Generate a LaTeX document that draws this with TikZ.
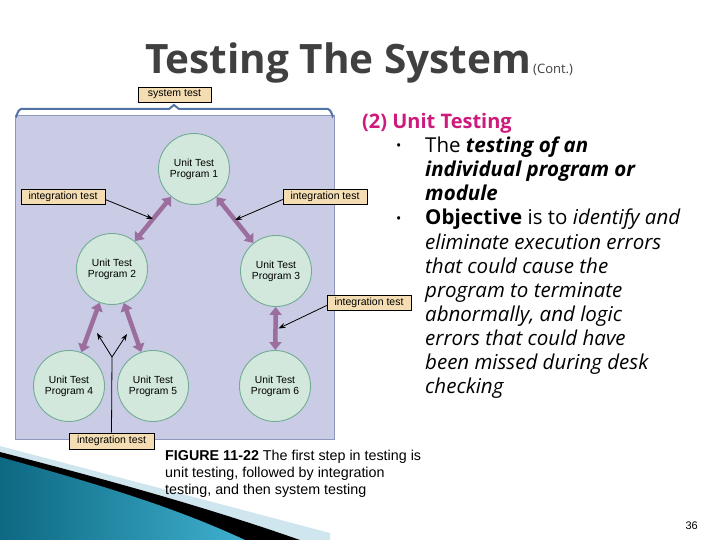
\documentclass[tikz,border=0pt]{standalone}
\usepackage{fontspec}
\setmainfont{Liberation Sans}
\newfontfamily\osans{Open Sans}
\usetikzlibrary{arrows.meta,calc}

\definecolor{panelfill}{HTML}{C9CCE4}
\definecolor{paneldraw}{HTML}{8F97BC}
\definecolor{bracecol}{HTML}{5273A6}
\definecolor{circfill}{HTML}{D3E8DC}
\definecolor{circdraw}{HTML}{72AC96}
\definecolor{labelfill}{HTML}{F4DDB2}
\definecolor{purparrow}{HTML}{9B6E9E}
\definecolor{titlecol}{HTML}{404040}
\definecolor{headcol}{HTML}{CF1A7D}
\definecolor{tealdark}{HTML}{0D6882}
\definecolor{teallight}{HTML}{3FB0CE}
\definecolor{paleblue}{HTML}{CFE6EE}

\begin{document}
\begin{tikzpicture}[x=1pt,y=-1pt,
  lbl/.style={draw=black, line width=0.7pt, fill=labelfill, font=\fontsize{10.5}{12}\selectfont,
    inner sep=0pt, minimum width=84pt, minimum height=15pt},
  ucirc/.style={circle, draw=circdraw, fill=circfill, line width=0.9pt, minimum size=71pt,
    inner sep=0pt, align=center, font=\fontsize{10.3}{11}\selectfont},
  purp/.style={draw=purparrow, line width=4.5pt,
    {Triangle[length=8pt,width=12pt]}-{Triangle[length=8pt,width=12pt]}},
  ptr/.style={draw=black, line width=0.8pt, -{Stealth[length=7pt,width=5pt]}},
  bodyline/.style={anchor=base west, inner sep=0pt, font=\osans\fontsize{20.5}{24}\selectfont},
  capline/.style={anchor=base west, inner sep=0pt, font=\fontsize{14.3}{17}\selectfont}
]
\useasboundingbox (0,0) rectangle (720,540);
\fill[white] (0,0) rectangle (720,540);

% bottom-left decoration
\fill[paleblue] (0,446) -- (330,533) -- (330,540) -- (0,540) -- cycle;
\fill[black] (0,452) .. controls (100,478) and (200,505) .. (300,540) -- (0,540) -- cycle;
\shade[left color=tealdark, right color=teallight]
  (0,457) .. controls (90,482) and (170,505) .. (245,540) -- (0,540) -- cycle;

% title
\node[anchor=base west, inner sep=0pt, text=titlecol, font=\osans\bfseries\fontsize{40.5}{44}\selectfont]
  (title) at (145,74) {Testing The System};
\node[anchor=base west, inner sep=0pt, text=titlecol, font=\osans\fontsize{13}{15}\selectfont]
  (cont) at (533,74) {(Cont.)};

% panel and brace
\fill[panelfill, draw=paneldraw, line width=0.8pt] (15,115) rectangle (334,439);
\draw[bracecol, line width=2pt, line cap=round]
  (16,116) to[out=-90,in=180] (21,109) -- (169,109) -- (174,105) -- (179,109) -- (328,109)
  to[out=0,in=-90] (333,116);
\node[lbl, minimum width=73pt] (st) at (174.5,94.5) {system test};

% unit test circles
\node[ucirc] (p1) at (194,169) {Unit Test\\Program 1};
\node[ucirc] (p2) at (112,269) {Unit Test\\Program 2};
\node[ucirc] (p3) at (276,271) {Unit Test\\Program 3};
\node[ucirc] (p4) at (69,386) {Unit Test\\Program 4};
\node[ucirc] (p5) at (153,386) {Unit Test\\Program 5};
\node[ucirc] (p6) at (275,386) {Unit Test\\Program 6};

% purple integration arrows
\draw[purp] (p1) -- (p2);
\draw[purp] (p1) -- (p3);
\draw[purp] (p2) -- (p4);
\draw[purp] (p2) -- (p5);
\draw[purp] (p3) -- (p6);

% integration test labels
\node[lbl] (il1) at (63,196.5) {integration test};
\node[lbl] (il2) at (325,196.5) {integration test};
\node[lbl] (il3) at (369,302.5) {integration test};
\node[lbl, minimum width=85pt, minimum height=16pt] (il4) at (111.5,441) {integration test};

\coordinate (m12) at ($(p1)!0.5!(p2)$);
\coordinate (m13) at ($(p1)!0.5!(p3)$);
\coordinate (m36) at ($(p3)!0.5!(p6)+(3,0)$);
\draw[ptr] ([yshift=-3pt]il1.east) -- (m12);
\draw[ptr] ([yshift=-3pt]il2.west) -- (m13);
\draw[ptr] ([yshift=-3pt]il3.west) -- (m36);

\coordinate (junc) at (112,357);
\coordinate (a4) at (97,333);
\coordinate (a5) at (127,334);
\draw[black, line width=0.8pt] (il4.north) -- (junc);
\draw[ptr] (junc) -- (a4);
\draw[ptr] (junc) -- (a5);

% right text
\node[anchor=base west, inner sep=0pt, text=headcol, font=\osans\bfseries\fontsize{20}{24}\selectfont]
  (head) at (362,129) {(2) Unit Testing};
\node[anchor=base west, inner sep=0pt, font=\osans\fontsize{14}{16}\selectfont] (b1) at (396,151) {•};
\node[anchor=base west, inner sep=0pt, font=\osans\fontsize{14}{16}\selectfont] (b2) at (396,223) {•};
\node[bodyline] (l1) at (425,153) {The \textbf{\textit{testing of an}}};
\node[bodyline] (l2) at (425,177) {\textbf{\textit{individual program or}}};
\node[bodyline] (l3) at (425,201) {\textbf{\textit{module}}};
\node[bodyline] (l4) at (425,225) {\textbf{Objective} is to \textit{identify and}};
\node[bodyline] (l5) at (425,249) {\textit{eliminate execution errors}};
\node[bodyline] (l6) at (425,273) {\textit{that could cause the}};
\node[bodyline] (l7) at (425,297) {\textit{program to terminate}};
\node[bodyline] (l8) at (425,321) {\textit{abnormally, and logic}};
\node[bodyline] (l9) at (425,345) {\textit{errors that could have}};
\node[bodyline] (l10) at (425,369) {\textit{been missed during desk}};
\node[bodyline] (l11) at (425,393) {\textit{checking}};

% caption
\node[capline] (c1) at (165,460) {\textbf{FIGURE 11-22} The first step in testing is};
\node[capline] (c2) at (165,477) {unit testing, followed by integration};
\node[capline] (c3) at (165,494) {testing, and then system testing};

\node[anchor=base east, inner sep=0pt, font=\fontsize{11}{13}\selectfont] (pg) at (698,529) {36};
\end{tikzpicture}
\end{document}
